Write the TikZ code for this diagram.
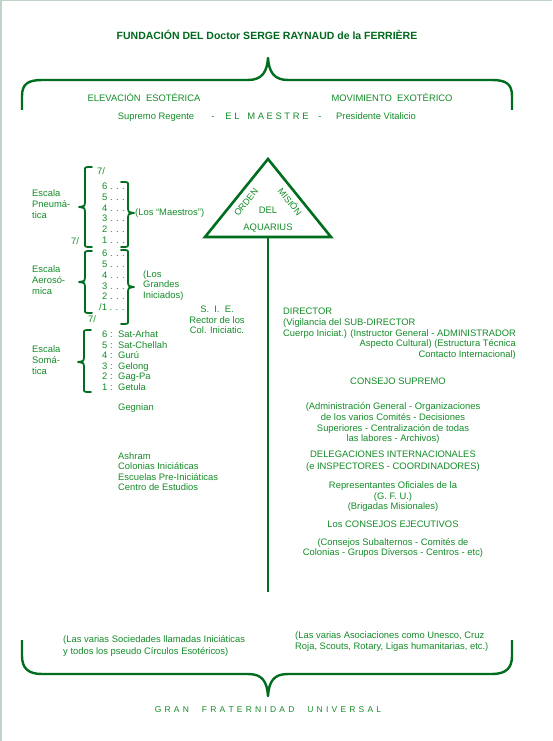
\documentclass[tikz,border=0pt]{standalone}
\usepackage{fontspec}
\setmainfont{Liberation Sans}
\definecolor{tgreen}{RGB}{20,140,40}
\definecolor{lgreen}{RGB}{0,110,30}
\definecolor{tdark}{RGB}{0,105,30}
\definecolor{edgec}{RGB}{190,212,198}
\newcommand\lsp{\kern3.2pt}
\newcommand\lbrc[4]{%
  \draw[brc] (#1+7,#2) -- (#1+3,#2) .. controls (#1,#2) .. (#1,#2+4) -- (#1,#4-4)
    .. controls (#1,#4-1) .. (#1-6,#4) .. controls (#1,#4+1) .. (#1,#4+4) -- (#1,#3-4)
    .. controls (#1,#3) .. (#1+3,#3) -- (#1+7,#3);}
\newcommand\rbrc[4]{%
  \draw[brc] (#1-7,#2) -- (#1-3,#2) .. controls (#1,#2) .. (#1,#2+4) -- (#1,#4-4)
    .. controls (#1,#4-1) .. (#1+6,#4) .. controls (#1,#4+1) .. (#1,#4+4) -- (#1,#3-4)
    .. controls (#1,#3) .. (#1-3,#3) -- (#1-7,#3);}
\begin{document}
\begin{tikzpicture}[x=1pt,y=-1pt,
  every node/.style={inner sep=0pt, text=tgreen, font=\fontsize{9.4}{11}\selectfont,
    text height=6.8pt, text depth=1.9pt},
  txt/.style={anchor=west},
  rtxt/.style={anchor=east},
  tri/.style={font=\fontsize{9}{11}\selectfont, text height=6.5pt, text depth=0pt},
  brc/.style={draw=lgreen, line width=1.8pt, line cap=round, line join=round},
  bigbrc/.style={draw=lgreen, line width=2.4pt, line cap=butt, line join=round},
  stem/.style={draw=lgreen, line width=2.6pt},
  titlef/.style={font=\fontsize{10.5}{12}\selectfont\bfseries, text=tdark}]
\useasboundingbox (0,0) rectangle (552,741);
\fill[white] (0,0) rectangle (552,741);
\draw[edgec, line width=1.5pt] (0.75,741) -- (0.75,0.75) -- (552,0.75);

% title and top brace
\node[titlef] (title) at (267,37) {FUNDACIÓN DEL Doctor SERGE RAYNAUD de la FERRIÈRE};
\draw[bigbrc] (22,110) -- (22,96) .. controls (22,84) and (28,80) .. (42,80) -- (248,80)
  .. controls (262,80) and (267,72) .. (268,58) .. controls (269,72) and (274,80) .. (288,80)
  -- (492,80) .. controls (506,80) and (512,84) .. (512,96) -- (512,110);
\node (elev) at (144,99) {ELEVACIÓN\ \ ESOTÉRICA};
\node (movi) at (392,99) {MOVIMIENTO\ \ EXOTÉRICO};
\node (supr) at (156,117) {Supremo Regente};
\node (dash1) at (213,117) {-};
\node (maes) at (267,117) {E L\ \ \ M A E S T R E};
\node (dash2) at (320,117) {-};
\node (pres) at (376,117) {Presidente Vitalicio};

% triangle and stem
\coordinate (apex) at (268,159);
\coordinate (bl) at (205,237);
\coordinate (br) at (331,237);
\coordinate (basemid) at (268,237);
\coordinate (stemend) at (268,592);
\draw[stem, line join=miter] (apex) -- (bl) -- (br) -- cycle;
\draw[stem] (basemid) -- (stemend);
\node[tri, rotate=51] (orden) at (246,202) {ORDEN};
\node[tri, rotate=-51] (mision) at (290,202) {MISIÓN};
\node (del) at (268,211) {DEL};
\node (aquarius) at (268,228) {AQUARIUS};

% left scales
\node[txt] (s7a) at (97,172) {7/};
\node[txt] (s7b) at (71,242) {7/};
\node[txt] (s7c) at (88,320) {7/};
\foreach \n/\y in {6/187,5/198,4/209,3/219,2/230,1/241}
  \node[txt] (pa\n) at (102,\y) {\n\ . . .};
\foreach \n/\y in {6/254,5/265,4/276,3/287,2/297}
  \node[txt] (pb\n) at (102,\y) {\n\ . . .};
\node[txt] (pb1) at (99,308) {/1 . . .};
\foreach \n/\y/\t in {6/335/Sat-Arhat,5/346/Sat-Chellah,4/356/Gurú,3/367/Gelong,2/377/Gag-Pa,1/388/Getula}
  \node[txt] (pc\n) at (102,\y) {\makebox[16pt][l]{\n\ :}\t};
\lbrc{85}{167}{247}{207}
\lbrc{85}{251}{313}{282}
\lbrc{84}{330}{392}{362}
\rbrc{128}{182}{247}{213}
\rbrc{128}{250}{324}{287}
\node[txt] (e1a) at (32,194) {Escala};
\node[txt] (e1b) at (32,205) {Pneumá-};
\node[txt] (e1c) at (32,216) {tica};
\node[txt] (e2a) at (32,270) {Escala};
\node[txt] (e2b) at (32,281) {Aerosó-};
\node[txt] (e2c) at (32,292) {mica};
\node[txt] (e3a) at (32,350) {Escala};
\node[txt] (e3b) at (32,361) {Somá-};
\node[txt] (e3c) at (32,372) {tica};
\node[txt] (maestros) at (135,213) {(Los “Maestros”)};
\node[txt] (gi1) at (143,275) {(Los};
\node[txt] (gi2) at (143,285) {Grandes};
\node[txt] (gi3) at (143,296) {Iniciados)};
\node[txt] (gegnian) at (118,408) {Gegnian};
\node[txt] (ash1) at (118,457) {Ashram};
\node[txt] (ash2) at (118,467) {Colonias Iniciáticas};
\node[txt] (ash3) at (118,478) {Escuelas Pre-Iniciáticas};
\node[txt] (ash4) at (118,488) {Centro de Estudios};
\node (sie1) at (217,310) {S.\ \ I.\ \ E.};
\node (sie2) at (217,321) {Rector de los};
\node (sie3) at (217,331) {Col. Iniciatic.};

% right column
\node[txt] (dir1) at (283,312) {DIRECTOR};
\node[txt] (dir2) at (283,323) {(Vigilancia del SUB-DIRECTOR};
\node[txt] (dir3) at (283,334) {Cuerpo Iniciat.) (Instructor General - ADMINISTRADOR};
\node[rtxt] (dir4) at (516,344) {Aspecto Cultural) (Estructura Técnica};
\node[rtxt] (dir5) at (516,355) {Contacto Internacional)};
\node (cs) at (398,382) {CONSEJO SUPREMO};
\node (cs1) at (393,407) {(Administración General - Organizaciones};
\node (cs2) at (393,418) {de los varios Comités - Decisiones};
\node (cs3) at (393,429) {Superiores - Centralización de todas};
\node (cs4) at (393,439) {las labores - Archivos)};
\node (dl1) at (393,455) {DELEGACIONES INTERNACIONALES};
\node (dl2) at (393,467) {(e INSPECTORES - COORDINADORES)};
\node (rp1) at (393,486) {Representantes Oficiales de la};
\node (rp2) at (393,497) {(G.\ F.\ U.)};
\node (rp3) at (393,507) {(Brigadas Misionales)};
\node (ce) at (393,525) {Los CONSEJOS EJECUTIVOS};
\node (ce1) at (393,543) {(Consejos Subalternos - Comités de};
\node (ce2) at (393,553) {Colonias - Grupos Diversos - Centros - etc)};

% bottom brace
\draw[bigbrc] (22,640) -- (22,656) .. controls (22,668) and (28,674) .. (42,674) -- (248,674)
  .. controls (262,674) and (267,681) .. (268,696) .. controls (269,681) and (274,674) .. (288,674)
  -- (492,674) .. controls (506,674) and (512,668) .. (512,656) -- (512,640);
\node[txt] (bl1) at (63,640) {(Las varias Sociedades llamadas Iniciáticas};
\node[txt] (bl2) at (63,652) {y todos los pseudo Círculos Esotéricos)};
\node[txt] (br1) at (295,636) {(Las varias Asociaciones como Unesco, Cruz};
\node[txt] (br2) at (295,647) {Roja, Scouts, Rotary, Ligas humanitarias, etc.)};
\node[font=\fontsize{8.5}{10}\selectfont] (gfu) at (268,710)
  {G\lsp R\lsp A\lsp N\hspace{13pt}F\lsp R\lsp A\lsp T\lsp E\lsp R\lsp N\lsp I\lsp D\lsp A\lsp D\hspace{13pt}U\lsp N\lsp I\lsp V\lsp E\lsp R\lsp S\lsp A\lsp L};
\end{tikzpicture}
\end{document}
